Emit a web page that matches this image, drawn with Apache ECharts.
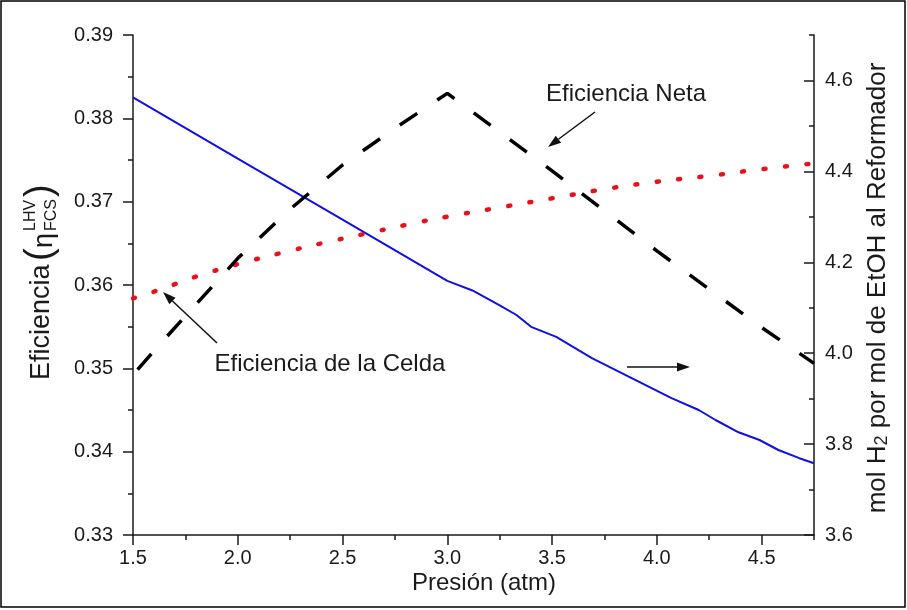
<!DOCTYPE html>
<html><head><meta charset="utf-8">
<script src="https://cdn.jsdelivr.net/npm/echarts@6/dist/echarts.min.js"></script>
<style>html,body{margin:0;padding:0;background:#fff}#c{width:907px;height:610px}</style>
</head><body><div id="c"></div>
<script>
// ---- tick values ----
const xTicks = [1.5, 2.0, 2.5, 3.0, 3.5, 4.0, 4.5];
const xMinorTicks = [1.75, 2.25, 2.75, 3.25, 3.75, 4.25, 4.75];
const rightTicks = [3.6, 3.8, 4.0, 4.2, 4.4, 4.6];
const rightMinorTicks = [3.7, 3.9, 4.1, 4.3, 4.5, 4.7];

// ---- Eficiencia de la Celda (left axis, red dotted) ----
const pCelda = [1.5, 1.6, 1.7, 1.8, 2.0, 2.2, 2.4, 2.6, 2.8, 3.0, 3.25, 3.5, 3.75, 4.0, 4.25, 4.5, 4.75];
const effCelda = [0.3584, 0.3592, 0.3601, 0.3610, 0.3625, 0.3638, 0.3650, 0.3661, 0.3672, 0.3682, 0.3693, 0.3704, 0.3715, 0.3724, 0.3731, 0.3739, 0.3746];

// ---- Eficiencia Neta (left axis, black dashed) ----
const pNeta = [1.5, 1.6, 2.0, 2.25, 2.5, 2.75, 3.0, 3.5, 4.0, 4.5, 4.75];
const effNeta = [0.3492, 0.3521, 0.3632, 0.3691, 0.3744, 0.3788, 0.3830, 0.3737, 0.3641, 0.3549, 0.3506];

// ---- mol H2 / mol EtOH (right axis, blue) ----
const pH2 = [1.5, 2.0, 2.5, 3.0, 3.12, 3.25, 3.33, 3.4, 3.52, 3.69, 3.88, 4.07, 4.2, 4.28, 4.39, 4.49, 4.58, 4.68, 4.75];
const molH2 = [4.563, 4.428, 4.294, 4.159, 4.138, 4.105, 4.084, 4.058, 4.036, 3.989, 3.945, 3.901, 3.875, 3.853, 3.826, 3.809, 3.787, 3.769, 3.758];

const FONT = "'Liberation Sans', Arial, sans-serif";
const AX = '#1a1a1a';
const pair = (xs, ys) => xs.map((x, i) => [x, ys[i]]);

function arrow(x1, y1, x2, y2) {
  const a = Math.atan2(y2 - y1, x2 - x1), L = 13, W = 4.5;
  const bx = x2 - L * Math.cos(a), by = y2 - L * Math.sin(a);
  const nx = -Math.sin(a), ny = Math.cos(a);
  return [
    {type: 'line', shape: {x1, y1, x2: bx, y2: by}, style: {stroke: '#111', lineWidth: 1.5}},
    {type: 'polygon', shape: {points: [[x2, y2], [bx + W * nx, by + W * ny], [bx - W * nx, by - W * ny]]}, style: {fill: '#111'}}
  ];
}

const chart = echarts.init(document.getElementById('c'), null, {renderer: 'canvas'});
const tickLabel = {color: '#1a1a1a', fontSize: 20, fontFamily: FONT};
chart.setOption({
  backgroundColor: '#fff',
  animation: false,
  grid: {left: 133, right: 93, top: 35, bottom: 75, containLabel: false},
  xAxis: [{
    type: 'value', min: 1.5, max: 4.75, interval: 0.5,
    axisLine: {show: true, onZero: false, lineStyle: {color: AX, width: 1.5}},
    axisTick: {show: true, length: 10, customValues: xTicks, lineStyle: {color: AX, width: 1.5}},
    axisLabel: {...tickLabel, margin: 13, customValues: xTicks, formatter: v => v.toFixed(1)},
    splitLine: {show: false}
  }, {
    type: 'value', min: 1.5, max: 4.75, position: 'bottom',
    axisLine: {show: false},
    axisTick: {show: true, length: 5, customValues: xMinorTicks, lineStyle: {color: AX, width: 1.5}},
    axisLabel: {show: false}, splitLine: {show: false}
  }],
  yAxis: [{
    type: 'value', min: 0.33, max: 0.39, interval: 0.01, position: 'left',
    axisLine: {show: true, onZero: false, lineStyle: {color: AX, width: 1.5}},
    axisTick: {show: true, length: 10, lineStyle: {color: AX, width: 1.5}},
    minorTick: {show: true, splitNumber: 2, length: 5, lineStyle: {color: AX, width: 1.5}},
    axisLabel: {...tickLabel, margin: 20, formatter: v => v.toFixed(2)},
    splitLine: {show: false}
  }, {
    type: 'value', min: 3.6, max: 4.7, interval: 0.2, position: 'right',
    axisLine: {show: true, onZero: false, lineStyle: {color: AX, width: 1.5}},
    axisTick: {show: true, inside: true, length: 10, customValues: rightTicks, lineStyle: {color: AX, width: 1.5}},
    axisLabel: {...tickLabel, margin: 11, customValues: rightTicks, formatter: v => v.toFixed(1)},
    splitLine: {show: false}
  }, {
    type: 'value', min: 3.6, max: 4.7, position: 'right',
    axisLine: {show: false},
    axisTick: {show: true, inside: true, length: 5, customValues: rightMinorTicks, lineStyle: {color: AX, width: 1.5}},
    axisLabel: {show: false}, splitLine: {show: false}
  }],
  series: [{
    name: 'mol H2', type: 'line', xAxisIndex: 0, yAxisIndex: 1, data: pair(pH2, molH2),
    showSymbol: false, symbol: 'none', smooth: false,
    lineStyle: {color: '#1010e6', width: 2}
  }, {
    name: 'Eficiencia de la Celda', type: 'line', xAxisIndex: 0, yAxisIndex: 0, data: pair(pCelda, effCelda),
    showSymbol: false, symbol: 'none', smooth: true,
    lineStyle: {color: '#e8101a', width: 4.5, type: [2, 19.5], cap: 'round'}
  }, {
    name: 'Eficiencia Neta', type: 'line', xAxisIndex: 0, yAxisIndex: 0, data: pair(pNeta, effNeta),
    showSymbol: false, symbol: 'none', smooth: false,
    lineStyle: {color: '#000', width: 3.5, type: [21, 24], dashOffset: -7}
  }],
  graphic: [
    {type: 'rect', shape: {x: 1, y: 1, width: 904, height: 606}, style: {fill: null, stroke: '#000', lineWidth: 1.5}, silent: true},
    {type: 'text', x: 484, y: 583, style: {text: 'Presión (atm)', font: '24px ' + FONT, fill: '#1a1a1a', align: 'center', verticalAlign: 'middle'}},
    {type: 'text', x: 878, y: 288, rotation: Math.PI / 2, style: {
      text: '{a|mol H}{s|2}{a| por mol de EtOH al Reformador}',
      rich: {a: {fontSize: 26, fontFamily: FONT, fill: '#1a1a1a'}, s: {fontSize: 18, fontFamily: FONT, fill: '#1a1a1a', verticalAlign: 'bottom', padding: [9, 0, 0, 0]}},
      align: 'center', verticalAlign: 'middle'}},
    {type: 'group', x: 42, y: 281, rotation: Math.PI / 2, children: [
      {type: 'text', x: -99, y: 0, style: {text: 'Eficiencia', font: '27px ' + FONT, fill: '#1a1a1a', align: 'left', verticalAlign: 'middle'}},
      {type: 'text', x: 20, y: -1, style: {text: '(', font: '300 38px ' + FONT, fill: '#1a1a1a', align: 'left', verticalAlign: 'middle'}},
      {type: 'text', x: 33, y: 3, style: {text: 'η', font: '27px ' + FONT, fill: '#1a1a1a', align: 'left', verticalAlign: 'middle'}},
      {type: 'text', x: 50, y: -11, style: {text: 'LHV', font: '16px ' + FONT, fill: '#1a1a1a', align: 'left', verticalAlign: 'middle'}},
      {type: 'text', x: 50, y: 10, style: {text: 'FCS', font: '16px ' + FONT, fill: '#1a1a1a', align: 'left', verticalAlign: 'middle'}},
      {type: 'text', x: 84, y: -1, style: {text: ')', font: '300 38px ' + FONT, fill: '#1a1a1a', align: 'left', verticalAlign: 'middle'}}
    ]},
    {type: 'text', x: 626, y: 94, style: {text: 'Eficiencia Neta', font: '24px ' + FONT, fill: '#1a1a1a', align: 'center', verticalAlign: 'middle'}},
    {type: 'text', x: 330, y: 364, style: {text: 'Eficiencia de la Celda', font: '24px ' + FONT, fill: '#1a1a1a', align: 'center', verticalAlign: 'middle'}},
    ...arrow(595, 112, 548, 147),
    ...arrow(217, 343, 163, 292),
    ...arrow(627, 367, 690, 367)
  ]
});
</script></body></html>
